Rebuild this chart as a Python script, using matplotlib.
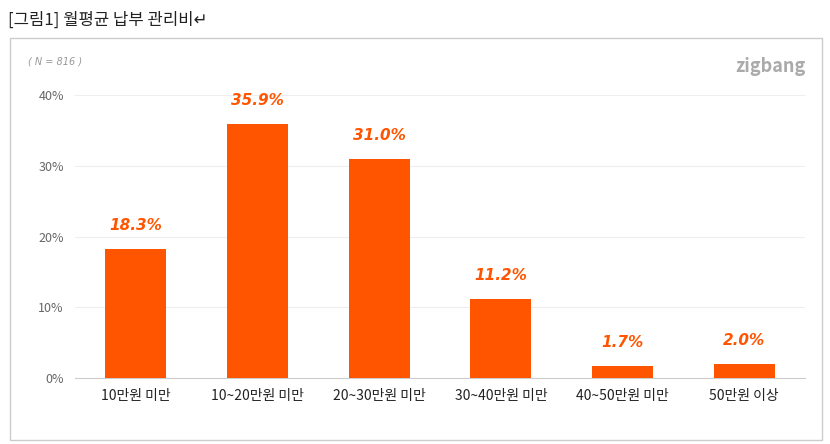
import matplotlib
matplotlib.use("Agg")
import matplotlib.pyplot as plt
from matplotlib.patches import Rectangle

categories = ["10만원 미만", "10~20만원 미만", "20~30만원 미만", "30~40만원 미만", "40~50만원 미만", "50만원 이상"]
values = [18.3, 35.9, 31.0, 11.2, 1.7, 2.0]
yticks = [0, 10, 20, 30, 40]

plt.rcParams["font.family"] = ["Noto Sans CJK KR", "Noto Sans CJK JP", "Noto Sans CJK SC", "DejaVu Sans"]
fig = plt.figure(figsize=(8.3, 4.44), dpi=100)
fig.patches.append(Rectangle((10/830, 1-440/444), 812/830, 402/444, transform=fig.transFigure,
                             fill=False, edgecolor="#cccccc", lw=1))
fig.text(8/830, 1-20/444, "[그림1] 월평균 납부 관리비↵", fontsize=12, va="center", color="#222222")
fig.text(28/830, 1-62/444, "( N = 816 )", fontsize=7, style="italic", color="#999999", va="center",
         family="DejaVu Sans")
fig.text(805/830, 1-66/444, "zigbang", fontsize=13, color="#aaaaaa", ha="right", va="center", fontweight="bold")

ax = fig.add_axes([75/830, 1-378/444, 730/830, 283/444])
x = range(len(categories))
ax.bar(x, values, width=0.5, color="#FF5500", zorder=3)
for i, v in zip(x, values):
    ax.text(i, v + 2.2, f"{v:.1f}%", ha="center", va="bottom", color="#FF5500",
            fontsize=11, fontweight="bold", style="italic", family="DejaVu Sans")
ax.set_ylim(0, 40)
ax.set_xlim(-0.5, len(categories) - 0.5)
ax.set_yticks(yticks)
ax.set_yticklabels([f"{t}%" for t in yticks], color="#666666", fontsize=9)
ax.set_xticks(list(x))
ax.set_xticklabels(categories, fontsize=10, color="#222222")
ax.tick_params(length=0, pad=8)
ax.grid(axis="y", color="#eeeeee", lw=0.8, zorder=0)
for s in ["top", "right", "left"]:
    ax.spines[s].set_visible(False)
ax.spines["bottom"].set_color("#cccccc")
fig.savefig("out.png", dpi=100)
